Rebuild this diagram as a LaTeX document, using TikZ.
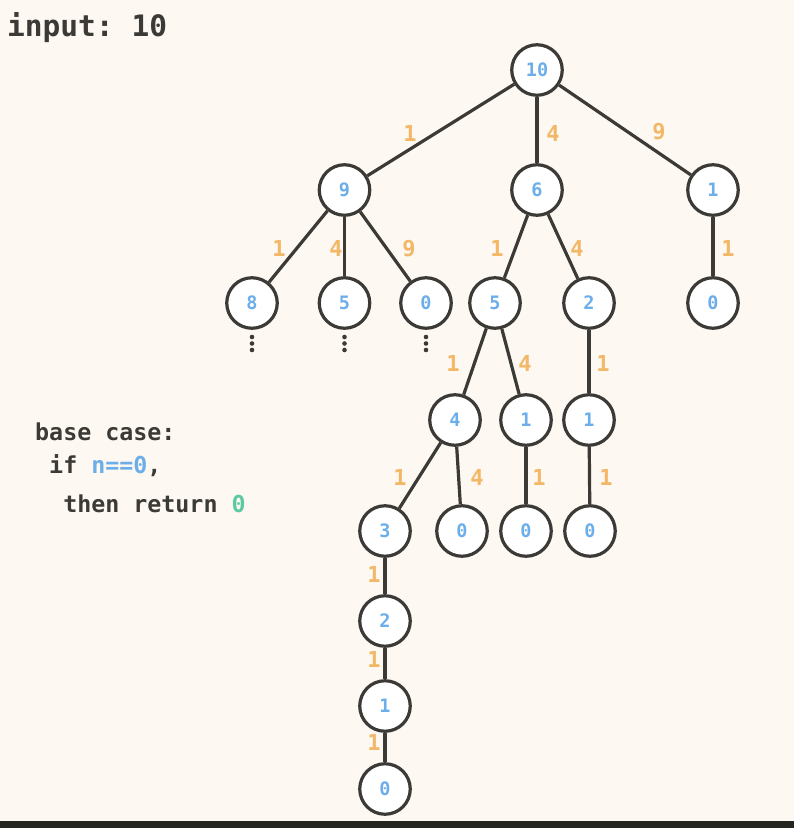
\documentclass[tikz,border=0pt]{standalone}
\usepackage{fontspec}
\setmonofont{DejaVu Sans Mono}
\definecolor{bgc}{HTML}{FDF8F2}
\definecolor{ink}{HTML}{3B3A36}
\definecolor{nblue}{HTML}{6CAEEA}
\definecolor{eorange}{HTML}{F3B866}
\definecolor{egreen}{HTML}{5DC9A2}
\definecolor{barc}{HTML}{252520}
\tikzset{
  tnode/.style={circle, draw=ink, fill=white, line width=3.2pt, minimum size=50.5pt, inner sep=0pt,
    text=nblue, font=\ttfamily\bfseries\fontsize{18.5}{20}\selectfont},
  edge/.style={draw=ink, line width=3.2pt},
  lbl/.style={text=eorange, font=\ttfamily\bfseries\fontsize{22}{24}\selectfont, inner sep=0pt},
  plain/.style={text=ink, anchor=base west, inner sep=0pt},
  dotc/.style={fill=ink}
}
\begin{document}
\begin{tikzpicture}[x=1pt,y=-1pt]
\fill[bgc] (0,0) rectangle (794,828);
\useasboundingbox (0,0) rectangle (794,828);
\fill[barc] (0,821) rectangle (794,828);

% text
\node[plain, font=\ttfamily\bfseries\fontsize{29.5}{31}\selectfont] (inp) at (7,36) {input: 10};
\node[plain, font=\ttfamily\bfseries\fontsize{23.3}{25}\selectfont] (bc1) at (35,440) {base case:};
\node[plain, font=\ttfamily\bfseries\fontsize{23.3}{25}\selectfont] (bc2) at (35,473) {\ if \textcolor{nblue}{n==0},};
\node[plain, font=\ttfamily\bfseries\fontsize{23.3}{25}\selectfont] (bc3) at (35,512) {\ \ then return \textcolor{egreen}{0}};

% nodes
\node[tnode] (a10) at (537,70) {10};
\node[tnode] (b9) at (344.5,190) {9};
\node[tnode] (b6) at (537,190) {6};
\node[tnode] (b1) at (713,190) {1};
\node[tnode] (c8) at (252,303) {8};
\node[tnode] (c5) at (344.5,303) {5};
\node[tnode] (c0) at (426,303) {0};
\node[tnode] (d5) at (495,303) {5};
\node[tnode] (d2) at (589,303) {2};
\node[tnode] (d0) at (713,303) {0};
\node[tnode] (e4) at (455,420) {4};
\node[tnode] (e1) at (526,420) {1};
\node[tnode] (f1) at (589,420) {1};
\node[tnode] (g3) at (385,531) {3};
\node[tnode] (g0) at (462,531) {0};
\node[tnode] (h0) at (526,531) {0};
\node[tnode] (i0) at (590,531) {0};
\node[tnode] (j2) at (385,621) {2};
\node[tnode] (k1) at (385,706) {1};
\node[tnode] (l0) at (385,789) {0};

% edges
\draw[edge] (a10) -- (b9);
\draw[edge] (a10) -- (b6);
\draw[edge] (a10) -- (b1);
\draw[edge] (b9) -- (c8);
\draw[edge] (b9) -- (c5);
\draw[edge] (b9) -- (c0);
\draw[edge] (b6) -- (d5);
\draw[edge] (b6) -- (d2);
\draw[edge] (b1) -- (d0);
\draw[edge] (d5) -- (e4);
\draw[edge] (d5) -- (e1);
\draw[edge] (d2) -- (f1);
\draw[edge] (e4) -- (g3);
\draw[edge] (e4) -- (g0);
\draw[edge] (e1) -- (h0);
\draw[edge] (f1) -- (i0);
\draw[edge] (g3) -- (j2);
\draw[edge] (j2) -- (k1);
\draw[edge] (k1) -- (l0);

% edge labels
\node[lbl] (l1) at (410,133) {1};
\node[lbl] (l2) at (553,133) {4};
\node[lbl] (l3) at (659,132) {9};
\node[lbl] (l4) at (279,248) {1};
\node[lbl] (l5) at (336,248) {4};
\node[lbl] (l6) at (409,249) {9};
\node[lbl] (l7) at (497,248) {1};
\node[lbl] (l8) at (577,248) {4};
\node[lbl] (l9) at (728,248) {1};
\node[lbl] (l10) at (453,363) {1};
\node[lbl] (l11) at (525,363) {4};
\node[lbl] (l12) at (603,363) {1};
\node[lbl] (l13) at (400,477) {1};
\node[lbl] (l14) at (477,477) {4};
\node[lbl] (l15) at (539,477) {1};
\node[lbl] (l16) at (606,477) {1};
\node[lbl] (l17) at (374,574) {1};
\node[lbl] (l18) at (374,659) {1};
\node[lbl] (l19) at (374,742) {1};

% continuation dots
\foreach \x in {252,344.5,426}{
  \foreach \y in {337,343.5,350}{
    \fill[dotc] (\x,\y) circle (2.3pt);
  }
}
\end{tikzpicture}
\end{document}
